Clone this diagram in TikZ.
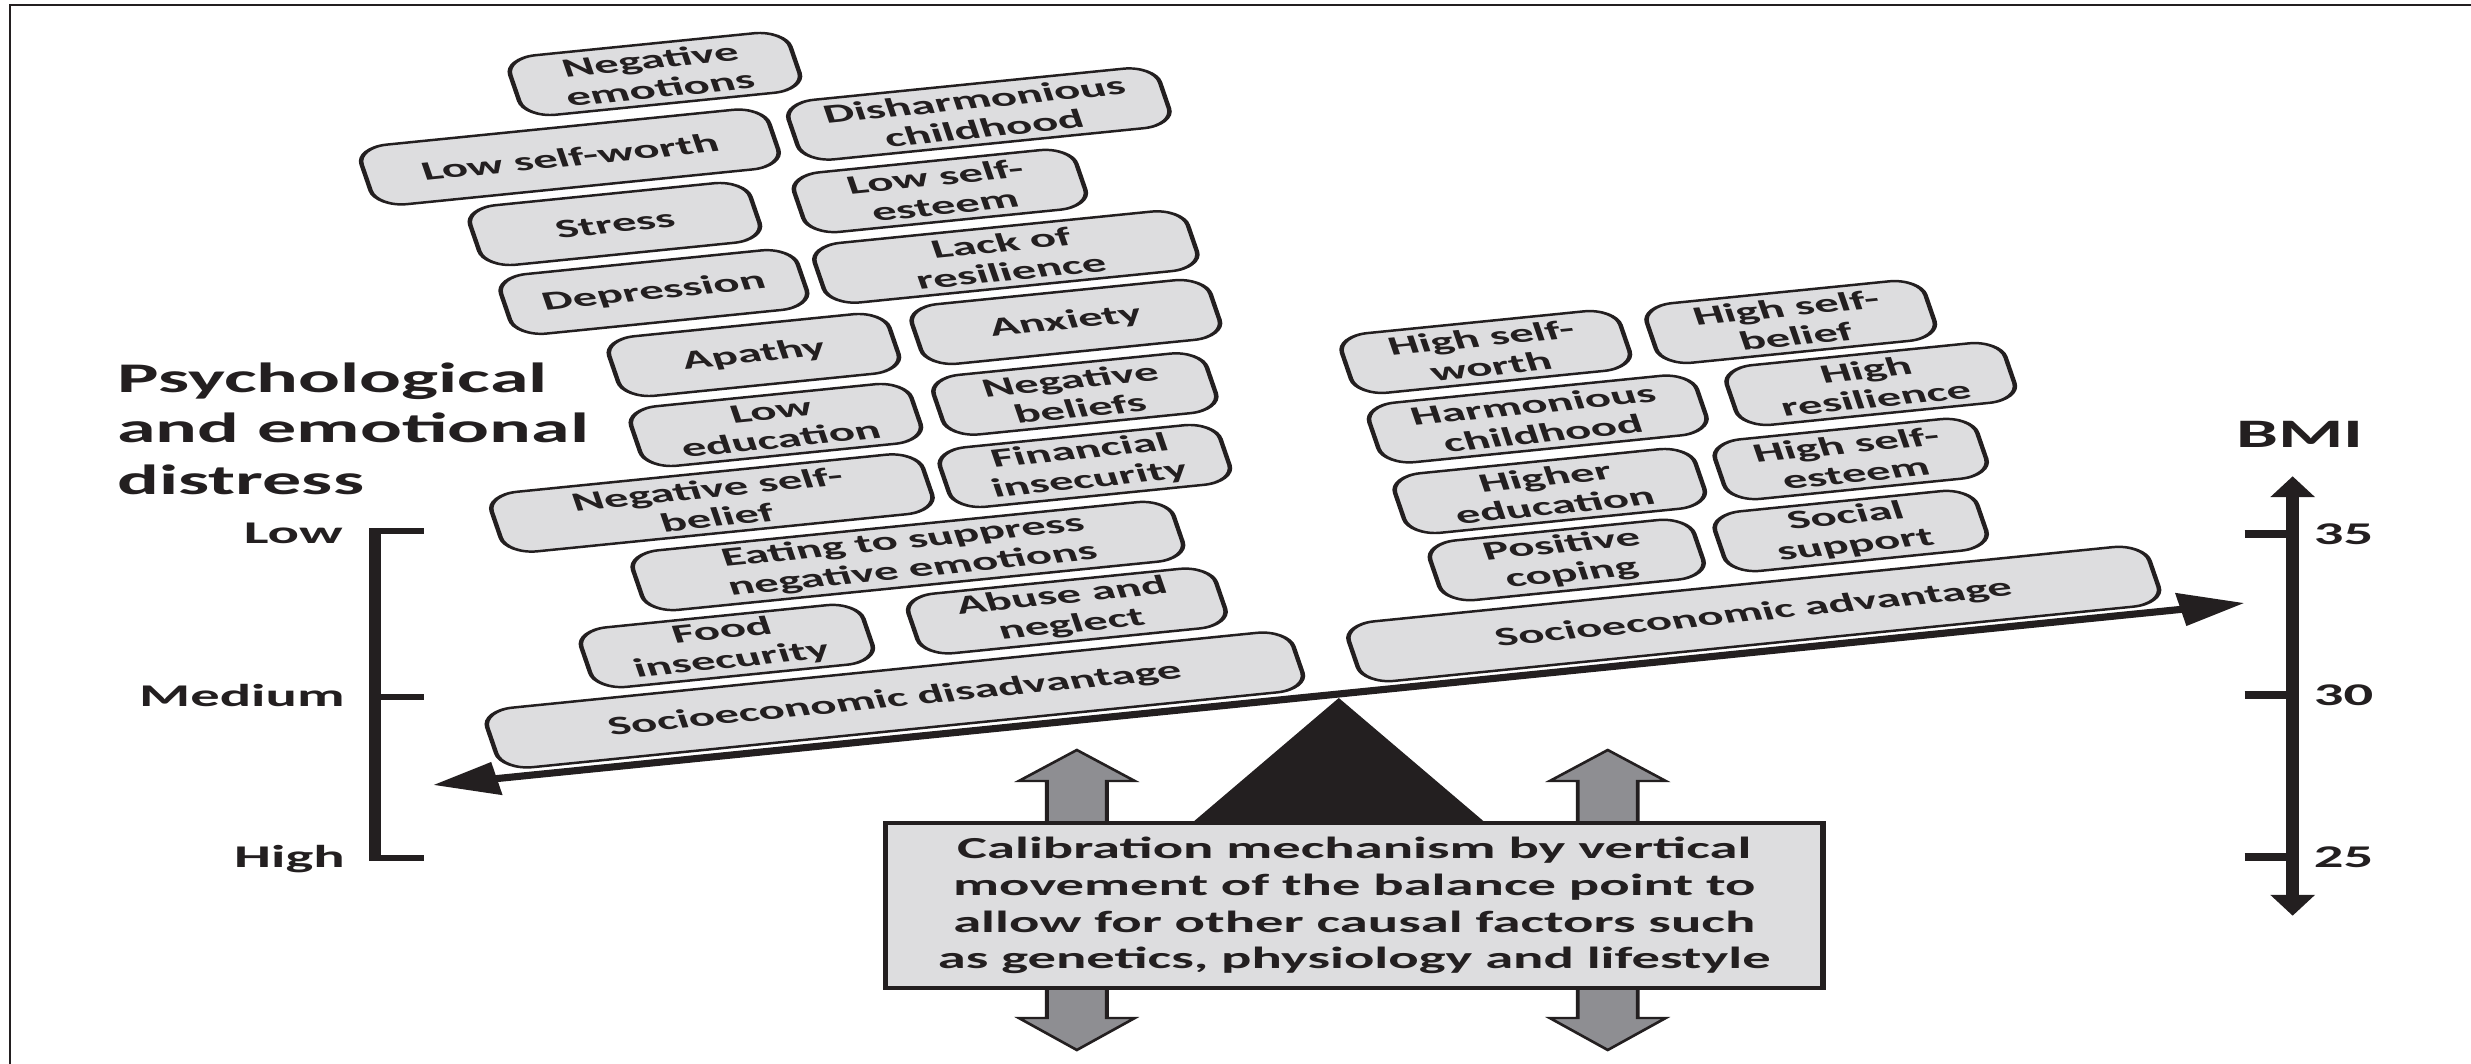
\documentclass[tikz,border=0pt]{standalone}
\usepackage{fontspec}
\setmainfont{Carlito}
\usetikzlibrary{arrows.meta,calc}
\definecolor{ink}{RGB}{35,31,32}
\definecolor{boxgray}{RGB}{221,221,223}
\definecolor{arrowgray}{RGB}{142,142,146}
\begin{document}
\begin{tikzpicture}[x=0.01cm, y=-0.01cm]
\useasboundingbox (0,0) rectangle (2471,1064);
% outer frame (top and left rules)
\draw[ink, line width=0.7pt] (10,1064) -- (10,5) -- (2471,5);

% the whole figure is set wide: everything below is stretched horizontally
\begin{scope}[x=0.0054054cm, transform canvas={xscale=1.85},
  factor/.style={draw=ink, line width=0.7pt, fill=boxgray,
    rounded corners=0.17cm, rotate=10.53, minimum height=0.605cm,
    minimum width=#1, inner sep=0.5pt, align=center, text=ink,
    font=\fontsize{7.5}{8.3}\selectfont\bfseries},
  beamline/.style={ink, line width=2pt,
    {Triangle[length=10pt,width=9pt]}-{Triangle[length=10pt,width=9pt]}},
  updown/.style={draw=ink, line width=0.6pt, fill=arrowgray, line join=miter},
  calib/.style={draw=ink, line width=0.9pt, fill=boxgray, minimum width=5.065cm,
    minimum height=1.65cm, inner sep=0pt, align=center, text=ink,
    font=\fontsize{8.7}{10.45}\selectfont\bfseries},
  scalelabel/.style={text=ink, inner sep=0pt, font=\fontsize{9}{10}\selectfont\bfseries},
  titlelabel/.style={text=ink, inner sep=0pt, anchor=base west,
    font=\fontsize{12}{14.5}\selectfont\bfseries},
  axis/.style={ink, line width=2pt},
  tick/.style={ink, line width=2pt}
]

% lever beam
\coordinate (beamL) at (433,785);
\coordinate (beamR) at (2245,603);
\draw[beamline] (beamL) -- (beamR);

% factors on the disadvantaged side
\node[factor=1.54cm] (negemo)    at (655,74)  {Negative\\emotions};
\node[factor=2.04cm] (disharm)   at (979,114) {Disharmonious\\childhood};
\node[factor=2.24cm] (lowworth)  at (570,157) {Low self-worth};
\node[factor=1.55cm] (lowesteem) at (940,191) {Low self-\\esteem};
\node[factor=1.54cm] (stress)    at (615,224) {Stress};
\node[factor=2.05cm] (lackres)   at (1006,257) {Lack of\\resilience};
\node[factor=1.63cm] (depress)   at (654,292) {Depression};
\node[factor=1.64cm] (anxiety)   at (1066,322) {Anxiety};
\node[factor=1.54cm] (apathy)    at (754,355) {Apathy};
\node[factor=1.50cm] (negbel)    at (1075,394) {Negative\\beliefs};
\node[factor=1.54cm] (lowedu)    at (776,425) {Low\\education};
\node[factor=1.54cm] (finins)    at (1085,466) {Financial\\insecurity};
\node[factor=2.37cm] (negself)   at (712,503) {Negative self-\\belief};
\node[factor=2.97cm] (eating)    at (908,556) {Eating to suppress\\negative emotions};
\node[factor=1.55cm] (food)      at (727,646) {Food\\insecurity};
\node[factor=1.69cm] (abuse)     at (1067,611) {Abuse and\\neglect};
\node[factor=4.43cm] (socdis)    at (895,700) {Socioeconomic disadvantage};

% factors on the advantaged side
\node[factor=1.53cm] (hsworth)   at (1486,352) {High self-\\worth};
\node[factor=1.53cm] (hsbelief)  at (1791,322) {High self-\\belief};
\node[factor=1.80cm] (harmon)    at (1538,419) {Harmonious\\childhood};
\node[factor=1.53cm] (hres)      at (1871,384) {High\\resilience};
\node[factor=1.44cm] (hsesteem)  at (1851,459) {High self-\\esteem};
\node[factor=1.65cm] (hedu)      at (1550,491) {Higher\\education};
\node[factor=1.44cm] (social)    at (1851,531) {Social\\support};
\node[factor=1.45cm] (poscop)    at (1567,560) {Positive\\coping};
\node[factor=4.40cm] (socadv)    at (1754,614) {Socioeconomic advantage};

% fulcrum
\fill[ink] (1339,698) -- (1500,835) -- (1178,835) -- cycle;

% up/down block arrows of the calibration mechanism
\foreach \cx in {1077,1608}{
  \draw[updown] (\cx,750) -- ++(58,31) -- ++(-28,0) -- ++(0,237) -- ++(28,0)
    -- ++(-58,32) -- ++(-58,-32) -- ++(28,0) -- ++(0,-237) -- ++(-28,0) -- cycle;
}

\node[calib] (calibbox) at (1354.5,905.5)
  {Calibration mechanism by vertical\\movement of the balance point to\\allow for other causal factors such\\as genetics, physiology and lifestyle};

% distress scale
\node[titlelabel] (title1) at (116,393) {Psychological};
\node[titlelabel] (title2) at (116,443) {and emotional};
\node[titlelabel] (title3) at (116,495) {distress};
\coordinate (dTop) at (375,531);
\coordinate (dMid) at (375,697);
\coordinate (dBot) at (375,858);
\draw[axis, line width=1.8pt] ($(dTop)+(49,0)$) -- (dTop) -- (dBot) -- ++(49,0);
\draw[tick, line width=1.8pt] (dMid) -- ++(49,0);
\node[scalelabel, anchor=base east] (dlow) at (344,544) {Low};
\node[scalelabel, anchor=base east] (dmed) at (346,707) {Medium};
\node[scalelabel, anchor=base east] (dhigh) at (346,868) {High};

% BMI scale
\node[text=ink, inner sep=0pt, anchor=base, font=\fontsize{11.5}{13}\selectfont\bfseries]
  (bmi) at (2300,448) {BMI};
\coordinate (bTop) at (2293,476);
\coordinate (bBot) at (2293,916);
\draw[axis, {Triangle[length=6pt,width=6.4pt]}-{Triangle[length=6pt,width=6.4pt]}] (bTop) -- (bBot);
\foreach \yy/\lab in {534/35,695/30,857/25}{
  \draw[tick] (2245,\yy) -- (2293,\yy);
  \node[scalelabel, anchor=west] (bmi\lab) at (2313,\yy) {\lab};
}
\end{scope}
\end{tikzpicture}
\end{document}
